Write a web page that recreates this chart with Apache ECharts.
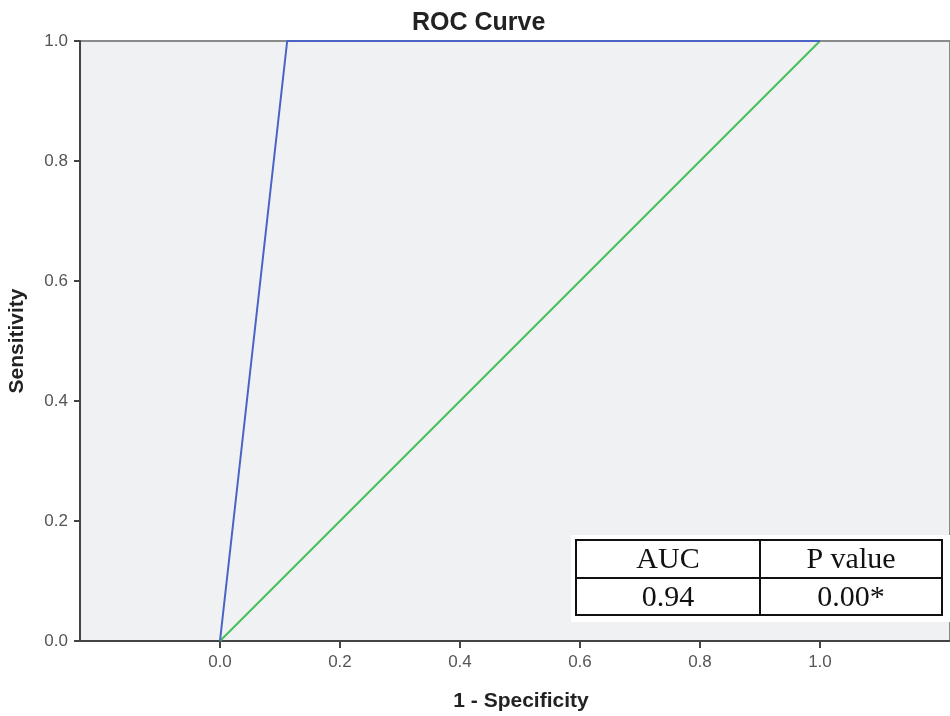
<!DOCTYPE html>
<html>
<head>
<meta charset="utf-8">
<script src="https://cdn.jsdelivr.net/npm/echarts@6/dist/echarts.min.js"></script>
<style>html,body{margin:0;padding:0;background:#fff;}#c{width:950px;height:716px;}</style>
</head>
<body>
<div id="c"></div>
<script>
var titleText = 'ROC Curve';
var xName = '1 - Specificity';
var yName = 'Sensitivity';
var tickValues = [0, 0.2, 0.4, 0.6, 0.8, 1.0];
var rocCurve = [[0, 0], [0.112, 1], [1, 1]];
var referenceLine = [[0, 0], [1, 1]];
var tableHeader = ['AUC', 'P value'];
var tableValues = ['0.94', '0.00*'];

var chart = echarts.init(document.getElementById('c'));
var serifFont = '"Liberation Serif", "DejaVu Serif", serif';
var sansFont = 'Arial, "Liberation Sans", sans-serif';

chart.setOption({
  animation: false,
  title: {
    text: titleText, left: 407, top: 6,
    textStyle: { fontFamily: sansFont, fontSize: 25, fontWeight: 'bold', color: '#222' }
  },
  grid: {
    left: 80, right: 0, top: 41, bottom: 75, outerBoundsMode: 'none', containLabel: false,
    show: true, backgroundColor: '#F0F1F3', borderColor: '#8a8a8a', borderWidth: 2
  },
  xAxis: {
    type: 'value', min: -0.2333, max: 1.2167,
    name: xName, nameLocation: 'middle', nameGap: 50,
    nameTextStyle: { fontFamily: sansFont, fontSize: 21, fontWeight: 'bold', color: '#222', padding: [0, 0, 0, 12] },
    axisLine: { show: true, onZero: false, lineStyle: { color: '#444', width: 2 } },
    axisTick: { show: true, customValues: tickValues, length: 7, lineStyle: { color: '#444', width: 2 } },
    axisLabel: { customValues: tickValues, formatter: function (v) { return v.toFixed(1); },
      fontFamily: sansFont, fontSize: 17, color: '#555', margin: 13 },
    splitLine: { show: false }
  },
  yAxis: {
    type: 'value', min: 0, max: 1, interval: 0.2,
    name: yName, nameLocation: 'middle', nameGap: 52, nameRotate: 90,
    nameTextStyle: { fontFamily: sansFont, fontSize: 21, fontWeight: 'bold', color: '#222' },
    axisLine: { show: true, onZero: false, lineStyle: { color: '#444', width: 2 } },
    axisTick: { show: true, length: 6, lineStyle: { color: '#444', width: 2 } },
    axisLabel: { formatter: function (v) { return v.toFixed(1); },
      fontFamily: sansFont, fontSize: 17, color: '#555', margin: 12, padding: [4, 0, 0, 0] },
    splitLine: { show: false }
  },
  series: [
    { type: 'line', data: referenceLine, showSymbol: false, lineStyle: { color: '#4dbf5a', width: 2 }, z: 2 },
    { type: 'line', data: rocCurve, showSymbol: false, lineStyle: { color: '#4a63c4', width: 2 }, z: 3 }
  ],
  graphic: [
    { type: 'rect', shape: { x: 571, y: 535, width: 379, height: 87 }, style: { fill: '#fff' }, z: 10 },
    { type: 'rect', shape: { x: 576, y: 540, width: 366, height: 75 }, style: { fill: 'none', stroke: '#111', lineWidth: 2 }, z: 11 },
    { type: 'line', shape: { x1: 760, y1: 540, x2: 760, y2: 615 }, style: { stroke: '#111', lineWidth: 2 }, z: 11 },
    { type: 'line', shape: { x1: 576, y1: 578, x2: 942, y2: 578 }, style: { stroke: '#111', lineWidth: 2 }, z: 11 },
    { type: 'text', x: 668, y: 560, style: { text: tableHeader[0], font: '30px ' + serifFont, fill: '#111', align: 'center', verticalAlign: 'middle' }, z: 12 },
    { type: 'text', x: 851, y: 560, style: { text: tableHeader[1], font: '30px ' + serifFont, fill: '#111', align: 'center', verticalAlign: 'middle' }, z: 12 },
    { type: 'text', x: 668, y: 598, style: { text: tableValues[0], font: '30px ' + serifFont, fill: '#111', align: 'center', verticalAlign: 'middle' }, z: 12 },
    { type: 'text', x: 851, y: 598, style: { text: tableValues[1], font: '30px ' + serifFont, fill: '#111', align: 'center', verticalAlign: 'middle' }, z: 12 }
  ]
});
</script>
</body>
</html>
